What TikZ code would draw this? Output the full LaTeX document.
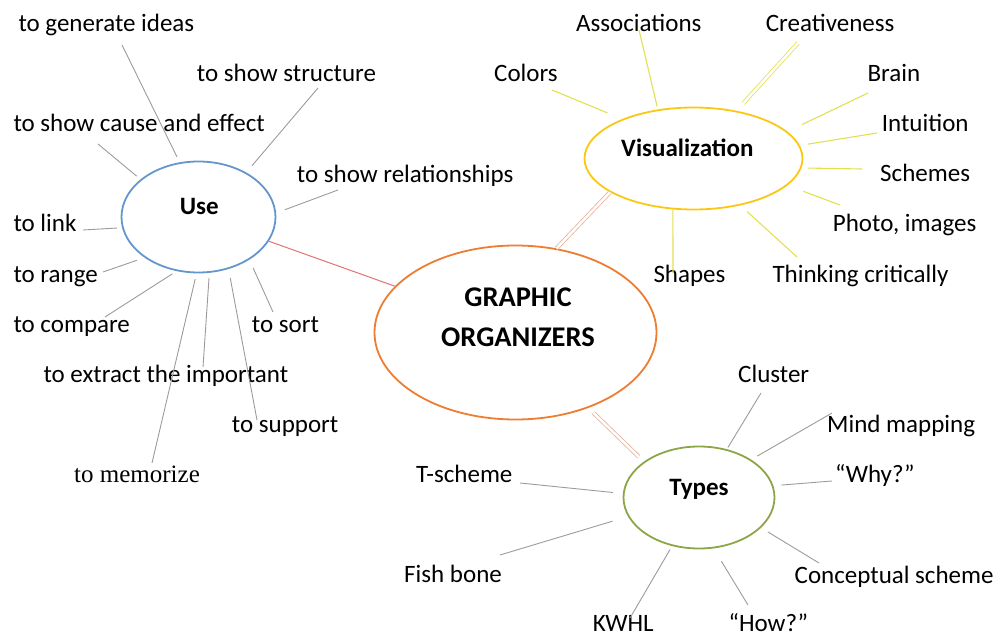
\documentclass[tikz,border=0pt]{standalone}
\usepackage{fontspec}
\setmainfont{Carlito}
\newfontfamily\serifpart{Liberation Serif}
\usetikzlibrary{shapes.geometric}

\definecolor{usecol}{RGB}{100,150,205}
\definecolor{maincol}{RGB}{237,125,49}
\definecolor{viscol}{RGB}{250,200,20}
\definecolor{typecol}{RGB}{140,165,70}
\definecolor{greyline}{RGB}{155,155,155}
\definecolor{yellowline}{RGB}{225,225,80}
\definecolor{redline}{RGB}{225,115,115}
\definecolor{peachline}{RGB}{235,175,150}

\begin{document}
\begin{tikzpicture}
  [x=1pt,y=-1pt,
   every node/.style={inner sep=0pt,font=\fontsize{25}{30}\selectfont},
   leaf/.style={anchor=base west},
   hub/.style={shape=ellipse,line width=1.8pt,draw},
   hubtext/.style={anchor=base,font=\fontsize{25}{30}\selectfont\bfseries},
   gspoke/.style={draw=greyline,line width=0.9pt},
   vspoke/.style={draw=yellowline,line width=1.1pt},
   twin/.style={line width=0.8pt,double=white,double distance=2.5pt}]
\useasboundingbox (0,0) rectangle (997,639);

\node [hub,draw=maincol,minimum width=282,minimum height=174] (main)  at (515.5,332.5) {};
\node [hub,draw=usecol,minimum width=154,minimum height=111]  (use)   at (198.5,217) {};
\node [hub,draw=viscol,minimum width=218,minimum height=102]  (vis)   at (693.5,158.5) {};
\node [hub,draw=typecol,minimum width=151,minimum height=102] (types) at (699,497.5) {};

\node [hubtext,font=\fontsize{28.5}{34}\selectfont\bfseries] (main1) at (518,306.7) {GRAPHIC};
\node [hubtext,font=\fontsize{28.5}{34}\selectfont\bfseries] (main2) at (518,346.7) {ORGANIZERS};
\node [hubtext] (uset)   at (199.3,215)   {Use};
\node [hubtext] (vist)   at (687.3,156.7) {Visualization};
\node [hubtext] (typest) at (699,495.7)   {Types};

% use
\node [leaf] (gen)     at (18.3,31.7)   {to generate ideas};
\node [leaf] (struct)  at (196.7,81.7)  {to show structure};
\node [leaf] (cause)   at (13.3,131.7)  {to show cause and effect};
\node [leaf] (rel)     at (296.7,182.7) {to show relationships};
\node [leaf] (link)    at (13.3,231.7)  {to link};
\node [leaf] (range)   at (13.3,282.7)  {to range};
\node [leaf] (compare) at (13.3,332.7)  {to compare};
\node [leaf] (sort)    at (251.7,332.7) {to sort};
\node [leaf] (extract) at (43.3,382.3)  {to extract the important};
\node [leaf] (support) at (231.7,432.7) {to support};
\node [leaf,font=\serifpart\fontsize{25}{30}\selectfont] (memo) at (74,482.7) {to memorize};

% visualization
\node [leaf] (assoc)   at (576,31.7)    {Associations};
\node [leaf] (creat)   at (765.7,31.7)  {Creativeness};
\node [leaf] (colors)  at (494,81.7)    {Colors};
\node [leaf] (brain)   at (867.3,81.7)  {Brain};
\node [leaf] (intu)    at (881.7,131.7) {Intuition};
\node [leaf] (schemes) at (880,181.7)   {Schemes};
\node [leaf] (photo)   at (832.7,231.7) {Photo, images};
\node [leaf] (shapes)  at (653.3,282.7) {Shapes};
\node [leaf] (think)   at (772.3,282.7) {Thinking critically};

% types
\node [leaf] (cluster) at (738,382.7)   {Cluster};
\node [leaf] (mind)    at (827,432.7)   {Mind mapping};
\node [leaf] (why)     at (835,482.7)   {“Why?”};
\node [leaf] (concept) at (794.5,583.3) {Conceptual scheme};
\node [leaf] (how)     at (728.4,631.7) {“How?”};
\node [leaf] (kwhl)    at (592.6,631.7) {KWHL};
\node [leaf] (fish)    at (404,582.7)   {Fish bone};
\node [leaf] (tsch)    at (416,482.7)   {T-scheme};

\coordinate (gen-e) at (122,45);     \coordinate (struct-e) at (318,88);
\coordinate (cause-e) at (98,144);   \coordinate (rel-e) at (338,190);
\coordinate (link-e) at (83,230);    \coordinate (range-e) at (103,272);
\coordinate (compare-e) at (105,317);\coordinate (memo-e) at (152,463);
\coordinate (extract-e) at (203,367);\coordinate (support-e) at (257,420);
\coordinate (sort-e) at (273,312);

\coordinate (assoc-e) at (639,30);   \coordinate (creat-e) at (798,43);
\coordinate (colors-e) at (552,90);  \coordinate (brain-e) at (868,93);
\coordinate (intu-e) at (877,133);   \coordinate (schemes-e) at (862,169);
\coordinate (photo-e) at (840,205);  \coordinate (think-e) at (797,257);
\coordinate (shapes-e) at (673,273);

\coordinate (cluster-e) at (761,393); \coordinate (mind-e) at (832,413);
\coordinate (why-e) at (832,481);     \coordinate (concept-e) at (819,563);
\coordinate (how-e) at (748,605);     \coordinate (kwhl-e) at (630,618);
\coordinate (fish-e) at (500,555);    \coordinate (tsch-e) at (520,483);

\foreach \e/\a/\s in {gen/109/6, struct/43/9, cause/147/5, rel/3/9,
  link/188/5, range/217/8, compare/248/5, memo/268/6, extract/281/5,
  support/300/9, sort/320/9} {
  \draw [gspoke,shorten >=\s pt] (\e-e) -- (use.\a) ;
}
\foreach \e/\a/\s in {assoc/126/3, colors/151/16, brain/16/16,
  intu/7/8, schemes/355/6, photo/344/17, think/315/9, shapes/248/0} {
  \draw [vspoke,shorten >=\s pt] (\e-e) -- (vis.\a) ;
}
\draw [vspoke,twin,shorten >=10pt] (creat-e) -- (vis.48) ;
\foreach \e/\a/\s in {cluster/60/2, mind/36/7, why/9/8, concept/334/8,
  how/286/15, kwhl/241/4, fish/195/16, tsch/177/10} {
  \draw [gspoke,shorten >=\s pt] (\e-e) -- (types.\a) ;
}

\draw [draw=redline,line width=1pt] (use.341) -- (main.159) ;
\draw [draw=peachline,twin] (vis.202) -- (main.64) ;
\draw [draw=peachline,twin,shorten <=7pt,shorten >=7pt]
  (main.314) -- (types.147) ;
\end{tikzpicture}
\end{document}
